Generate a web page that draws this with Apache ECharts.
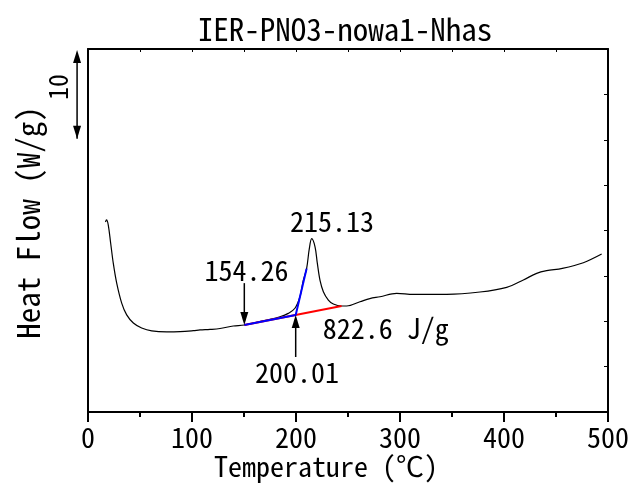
<!DOCTYPE html>
<html>
<head>
<meta charset="utf-8">
<script src="https://cdn.jsdelivr.net/npm/echarts@6/dist/echarts.min.js"></script>
<style>html,body{margin:0;padding:0;background:#fff}#c{width:637px;height:504px}</style>
</head>
<body>
<div id="c"></div>
<script>
var FONT = "'Noto Sans Mono CJK JP', 'Liberation Sans Narrow', 'Liberation Sans', sans-serif";
var titleText = 'IER-PNO3-nowa1-Nhas';
var xName = 'Temperature (\u2103)';
var yName = 'Heat Flow (W/g)';

var temps = [16.8, 17.8, 19.5, 21.8, 24.3, 27.6, 32.4, 37.2, 43.6, 51.6, 61.3, 75.7, 88.5, 101.3, 107.7, 117.3, 126.9, 139.7, 150.3, 171.8, 184.6, 192.6, 199, 203.8, 207, 210.2, 212.8, 215.1, 218.3, 220.5, 223.1, 226.3, 231.1, 235.9, 243.8, 248.7, 261.5, 271, 280.8, 296.8, 312.8, 344.9, 376.9, 402.6, 418.6, 431.4, 441, 456.1, 476.3, 493.9];
var heat = [20.94, 21.16, 20.6, 18.6, 16.4, 14.2, 12.0, 10.7, 9.81, 9.26, 8.93, 8.82, 8.85, 8.96, 9.04, 9.1, 9.2, 9.48, 9.59, 10.14, 10.5, 10.87, 11.43, 12.7, 14.5, 15.8, 18.0, 19.1, 18.2, 16.4, 14.5, 13.26, 12.34, 11.9, 11.68, 11.68, 12.15, 12.5, 12.7, 13.08, 12.97, 12.97, 13.22, 13.74, 14.55, 15.28, 15.57, 15.83, 16.45, 17.4];

// integration baseline (red) and onset tangent construction (blue)
var baseT = [150.3, 243.8];
var baseH = [9.59, 11.68];
var tangT = [150.3, 199.7, 210.2];
var tangH = [9.59, 10.69, 15.8];

// arrows: x, from y, to y (tip), double-headed flag
var arrowX = [150.3, 199.7, -10.5];
var arrowFrom = [14.2, 6.06, 30.1];
var arrowTo = [9.59, 10.69, 39.9];
var arrowDouble = [0, 0, 1];

// annotation texts
var noteText = ['215.13', '154.26', '200.01', '822.6 J/g', '10'];
var noteX = [234.6, 152.4, 201, 225.7, -28.8];
var noteY = [21.05, 15.65, 4.41, 9.22, 35.8];
var noteAlign = ['center', 'center', 'center', 'left', 'center'];
var noteRot = [0, 0, 0, 0, 90];

function zip(a, b) { return a.map(function (v, i) { return [v, b[i]]; }); }

var chart = echarts.init(document.getElementById('c'));
chart.setOption({
  animation: false,
  backgroundColor: '#fff',
  title: {
    text: titleText, left: 340, top: 9, textAlign: 'center',
    textStyle: { fontFamily: FONT, fontSize: 31, fontWeight: 'normal', color: '#000' }
  },
  grid: { left: 88, right: 29, top: 49, bottom: 92 },
  xAxis: [{
    type: 'value', min: 0, max: 500, interval: 100, position: 'bottom',
    name: xName, nameLocation: 'middle', nameGap: 40, nameMoveOverlap: false,
    nameTextStyle: { fontFamily: FONT, fontSize: 28, color: '#000', padding: [0, 44, 0, 0] },
    axisLine: { onZero: false, lineStyle: { color: '#000', width: 2 } },
    axisTick: { show: true, inside: false, length: 10, lineStyle: { color: '#000', width: 2 } },
    minorTick: { show: true, splitNumber: 2, length: 5, lineStyle: { color: '#000', width: 2 } },
    axisLabel: { fontFamily: FONT, fontSize: 28, color: '#000', margin: 11 },
    splitLine: { show: false }
  }, {
    type: 'value', min: 0, max: 500, interval: 50, position: 'top',
    axisLine: { onZero: false, lineStyle: { color: '#000', width: 2 } },
    axisTick: { show: true, inside: true, length: 3, lineStyle: { color: '#000', width: 1 } },
    axisLabel: { show: false }, splitLine: { show: false }
  }],
  yAxis: [{
    type: 'value', min: 0, max: 40, position: 'left',
    name: yName, nameLocation: 'middle', nameGap: 44, nameMoveOverlap: false,
    nameTextStyle: { fontFamily: FONT, fontSize: 31, color: '#000', padding: [0, 0, 0, 16] },
    axisLine: { show: true, onZero: false, lineStyle: { color: '#000', width: 2 } },
    axisTick: { show: false }, axisLabel: { show: false }, splitLine: { show: false }
  }, {
    type: 'value', min: 0, max: 40, interval: 5, position: 'right',
    axisLine: { show: true, onZero: false, lineStyle: { color: '#000', width: 2 } },
    axisTick: { show: true, inside: true, length: 4, lineStyle: { color: '#000', width: 1 } },
    axisLabel: { show: false }, splitLine: { show: false }
  }],
  series: [{
    type: 'line', data: zip(temps, heat), showSymbol: false, smooth: 0.35,
    lineStyle: { color: '#000', width: 1.2 }, z: 3
  }, {
    type: 'line', data: zip(baseT, baseH), showSymbol: false,
    lineStyle: { color: '#ff0000', width: 2 }, z: 4
  }, {
    type: 'line', data: zip(tangT, tangH), showSymbol: false,
    lineStyle: { color: '#0000ff', width: 2 }, z: 5
  }, {
    type: 'custom', clip: false, z: 6,
    data: arrowX.map(function (x, i) { return [x, arrowFrom[i], arrowTo[i], arrowDouble[i]]; }),
    renderItem: function (params, api) {
      var p0 = api.coord([api.value(0), api.value(1)]);
      var p1 = api.coord([api.value(0), api.value(2)]);
      var dir = p1[1] > p0[1] ? 1 : -1;
      var hl = 13, hw = 4;
      var children = [{
        type: 'line', shape: { x1: p0[0], y1: p0[1], x2: p1[0], y2: p1[1] - dir * 4 },
        style: { stroke: '#000', lineWidth: 1.5 }
      }, {
        type: 'polygon', shape: { points: [[p1[0], p1[1]], [p1[0] - hw, p1[1] - dir * hl], [p1[0] + hw, p1[1] - dir * hl]] },
        style: { fill: '#000' }
      }];
      if (api.value(3)) {
        children.push({
          type: 'polygon', shape: { points: [[p0[0], p0[1]], [p0[0] - hw, p0[1] + dir * hl], [p0[0] + hw, p0[1] + dir * hl]] },
          style: { fill: '#000' }
        });
      }
      return { type: 'group', children: children };
    }
  }, {
    type: 'custom', clip: false, z: 7,
    data: noteX.map(function (x, i) { return [x, noteY[i], i]; }),
    renderItem: function (params, api) {
      var i = api.value(2);
      var p = api.coord([api.value(0), api.value(1)]);
      return {
        type: 'text', x: p[0], y: p[1], rotation: noteRot[i] * Math.PI / 180,
        style: { text: noteText[i], fontFamily: FONT, fontSize: i === 4 ? 26 : 28,
          fill: '#000', align: noteAlign[i], verticalAlign: 'middle' }
      };
    }
  }]
});
</script>
</body>
</html>
